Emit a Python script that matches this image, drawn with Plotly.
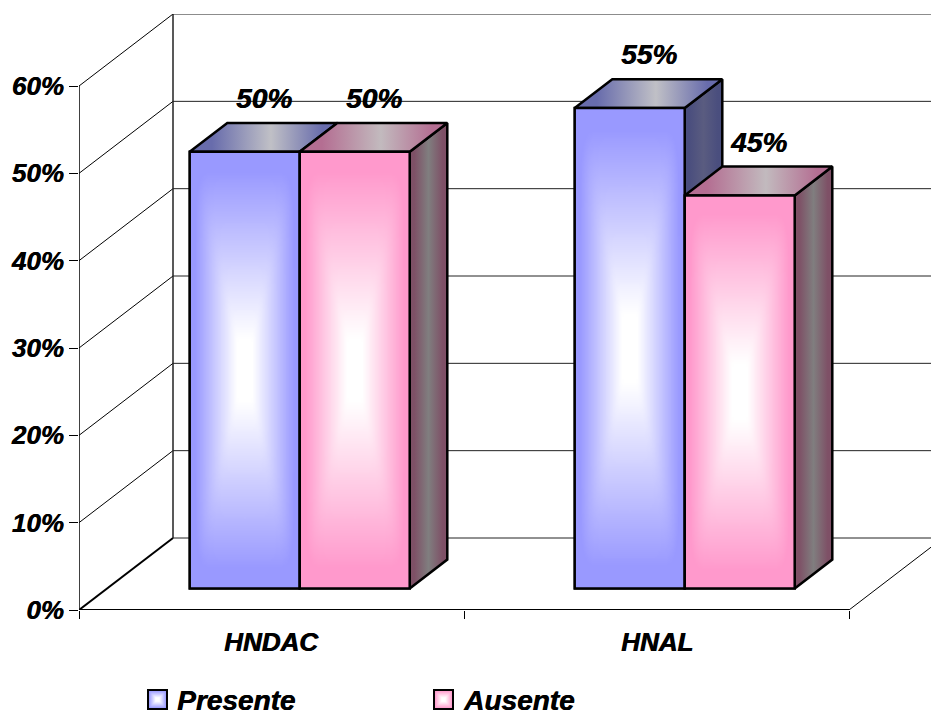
import base64
import struct
import zlib

import numpy as np
import plotly.graph_objects as go

# ---- data -----------------------------------------------------------------
categories = ["HNDAC", "HNAL"]
series_names = ["Presente", "Ausente"]
presente = [50, 55]
ausente = [50, 45]
y_tick_vals = [0, 10, 20, 30, 40, 50, 60]
y_tick_text = ["0%", "10%", "20%", "30%", "40%", "50%", "60%"]

series_values = [presente, ausente]

# ---- styling --------------------------------------------------------------
FONT = "Liberation Sans, Arial, sans-serif"
TEXT_SHADOW = "0.6px 0 0 #000"
front_rgb = [(153, 153, 255), (255, 153, 204)]
top_edge = ["rgb(104,108,172)", "rgb(180,110,146)"]
top_mid = ["rgb(192,192,198)", "rgb(194,186,190)"]
side_edge = ["rgb(74,78,126)", "rgb(126,80,102)"]
side_mid = ["rgb(90,92,128)", "rgb(128,126,127)"]

# ---- oblique projection geometry (axis units) -----------------------------
W, H = 931, 715
M_L, M_R, M_T, M_B = 79, 0, 14, 105
SLOT_PX = 385.0          # pixels per category slot
PX_PER_PCT = 8.733       # pixels per percentage point
DX = 94 / SLOT_PX        # horizontal shift of the back plane
DY = 72 / PX_PER_PCT     # vertical shift of the back plane
BAR_W = 1 / 3.5          # gap width 150 %
FRONT_D, BACK_D = 0.3, 0.7
DEPTH = BACK_D - FRONT_D
X0 = -0.5
X_MAX = X0 + (W - M_L - M_R) / SLOT_PX
Y_MAX = (H - M_T - M_B) / PX_PER_PCT
Y_TOP = max(y_tick_vals)


def png_uri(edge, center, w=64, h=256, core=0.15, rim=0.92, p=10.0):
    """Rectangular 'from centre' gradient as a PNG data URI."""
    u = np.linspace(-1, 1, w)
    v = np.linspace(-1, 1, h)
    U, V = np.meshgrid(u, v)
    t = (np.abs(U) ** p + np.abs(V) ** p) ** (1 / p)
    s = np.clip((t - core) / (rim - core), 0, 1)[..., None]
    e = np.array(edge, float)
    c = np.array(center, float)
    img = np.clip(c + (e - c) * s, 0, 255).astype(np.uint8)
    raw = b"".join(b"\x00" + row.tobytes() for row in img)

    def chunk(tag, data):
        return (struct.pack(">I", len(data)) + tag + data
                + struct.pack(">I", zlib.crc32(tag + data) & 0xFFFFFFFF))

    png = (b"\x89PNG\r\n\x1a\n"
           + chunk(b"IHDR", struct.pack(">IIBBBBB", w, h, 8, 2, 0, 0, 0))
           + chunk(b"IDAT", zlib.compress(raw, 9))
           + chunk(b"IEND", b""))
    return "data:image/png;base64," + base64.b64encode(png).decode()


def text_font(size):
    return dict(family=FONT, size=size, color="black", weight="bold",
                style="italic", shadow=TEXT_SHADOW)


fig = go.Figure()
shapes = []
images = []
annotations = []

# ---- walls, floor and gridlines -------------------------------------------
for t in y_tick_vals:
    shapes.append(dict(type="line", layer="below", x0=X0 + DX, x1=X_MAX + DX,
                       y0=t + DY, y1=t + DY, line=dict(color="#222", width=1)))
    shapes.append(dict(type="line", layer="below", x0=X0, x1=X0 + DX,
                       y0=t, y1=t + DY,
                       line=dict(color="black", width=2 if t == 0 else 1)))
shapes.append(dict(type="line", layer="below", x0=X0 + DX, x1=X0 + DX,
                   y0=DY, y1=Y_TOP + DY, line=dict(color="#222", width=1.5)))
shapes.append(dict(type="line", layer="below", x0=X0, x1=X0, y0=0, y1=Y_TOP,
                   line=dict(color="black", width=1.5)))
x_end = X0 + len(categories)
shapes.append(dict(type="line", layer="below", x0=X0, x1=x_end, y0=0, y1=0,
                   line=dict(color="black", width=2)))
shapes.append(dict(type="line", layer="below", x0=x_end, x1=x_end + DX,
                   y0=0, y1=DY, line=dict(color="black", width=1)))

# ---- bars -------------------------------------------------------------------
base = FRONT_D * DY
for j, (name, vals) in enumerate(zip(series_names, series_values)):
    offset = (j - 1) * BAR_W + FRONT_D * DX
    fig.add_trace(go.Bar(
        x=list(range(len(categories))), y=vals, base=[base] * len(vals),
        width=BAR_W, offset=offset, name=name, showlegend=False,
        marker=dict(color="rgb(%d,%d,%d)" % front_rgb[j],
                    line=dict(color="black", width=2)),
        customdata=categories,
        hovertemplate="%{customdata}<br>" + name + ": %{y}%<extra></extra>",
    ))

grad_front = [png_uri(c, (255, 255, 255)) for c in front_rgb]

for i, cat in enumerate(categories):
    for j, vals in enumerate(series_values):
        v = vals[i]
        xl = i + (j - 1) * BAR_W + FRONT_D * DX
        xr = xl + BAR_W
        top = base + v
        ddx, ddy = DEPTH * DX, DEPTH * DY
        # right side face
        fig.add_trace(go.Scatter(
            x=[xr, xr + ddx, xr + ddx, xr, xr],
            y=[base, base + ddy, top + ddy, top, base],
            mode="lines", fill="toself", showlegend=False, hoverinfo="skip",
            line=dict(color="black", width=2.5),
            fillgradient=dict(type="horizontal", colorscale=[
                [0, side_edge[j]], [0.12, side_edge[j]], [0.5, side_mid[j]],
                [0.88, side_edge[j]], [1, side_edge[j]]]),
        ))
        # top face
        fig.add_trace(go.Scatter(
            x=[xl, xr, xr + ddx, xl + ddx, xl],
            y=[top, top, top + ddy, top + ddy, top],
            mode="lines", fill="toself", showlegend=False, hoverinfo="skip",
            line=dict(color="black", width=2.5),
            fillgradient=dict(type="horizontal", colorscale=[
                [0, top_edge[j]], [0.15, top_edge[j]], [0.55, top_mid[j]],
                [0.9, top_edge[j]], [1, top_edge[j]]]),
        ))
        # shaded front face and its outline
        images.append(dict(source=grad_front[j], xref="x", yref="y",
                           x=xl, y=top, sizex=BAR_W, sizey=v,
                           xanchor="left", yanchor="top", sizing="stretch",
                           layer="above"))
        shapes.append(dict(type="rect", layer="above", x0=xl, x1=xr,
                           y0=base, y1=top,
                           line=dict(color="black", width=2.5)))
        # value label
        annotations.append(dict(
            x=xl + BAR_W / 2 + (0.5 - FRONT_D) * DX, y=0.5 * DY + v,
            xref="x", yref="y", text=f"{v}%", showarrow=False,
            yanchor="middle", yshift=39, font=text_font(28)))

# ---- category labels ----------------------------------------------------------
for i, cat in enumerate(categories):
    annotations.append(dict(
        x=i, y=0, xref="x", yref="y", text=cat, showarrow=False,
        yanchor="middle", yshift=-32, font=text_font(26)))

# ---- legend ---------------------------------------------------------------------
plot_w = W - M_L - M_R
plot_h = H - M_T - M_B


def px_x(px):
    return (px - M_L) / plot_w


def px_y(py):
    return (H - M_B - py) / plot_h


legend_x = [148, 434]
for j, name in enumerate(series_names):
    x0 = legend_x[j]
    images.append(dict(source=png_uri(front_rgb[j], (255, 255, 255), 32, 32,
                                      core=0.2, rim=0.95),
                       xref="paper", yref="paper", x=px_x(x0), y=px_y(690),
                       sizex=19 / plot_w, sizey=19 / plot_h,
                       xanchor="left", yanchor="top", sizing="stretch",
                       layer="above"))
    shapes.append(dict(type="rect", xref="paper", yref="paper",
                       x0=px_x(x0), x1=px_x(x0 + 19),
                       y0=px_y(709), y1=px_y(690),
                       line=dict(color="black", width=2)))
    annotations.append(dict(
        x=px_x(x0 + 27), y=px_y(700), xref="paper", yref="paper",
        text=name, showarrow=False, xanchor="left", yanchor="middle",
        font=text_font(28)))

fig.update_layout(
    width=W, height=H, autosize=False,
    margin=dict(l=M_L, r=M_R, t=M_T, b=M_B, pad=0),
    paper_bgcolor="white", plot_bgcolor="white",
    barmode="overlay", showlegend=False,
    shapes=shapes, images=images, annotations=annotations,
    xaxis=dict(range=[X0, X_MAX], showgrid=False, zeroline=False,
               showline=False, tickmode="array",
               tickvals=[X0 + k for k in range(len(categories) + 1)],
               ticktext=[""] * (len(categories) + 1),
               ticks="outside", ticklen=8, tickwidth=1, tickcolor="black"),
    yaxis=dict(range=[0, Y_MAX], showgrid=False, zeroline=False,
               showline=False, tickmode="array",
               tickvals=y_tick_vals, ticktext=y_tick_text,
               ticks="outside", ticklen=9, tickwidth=1, tickcolor="black",
               tickfont=text_font(26)),
)

fig.write_html("out.html")
